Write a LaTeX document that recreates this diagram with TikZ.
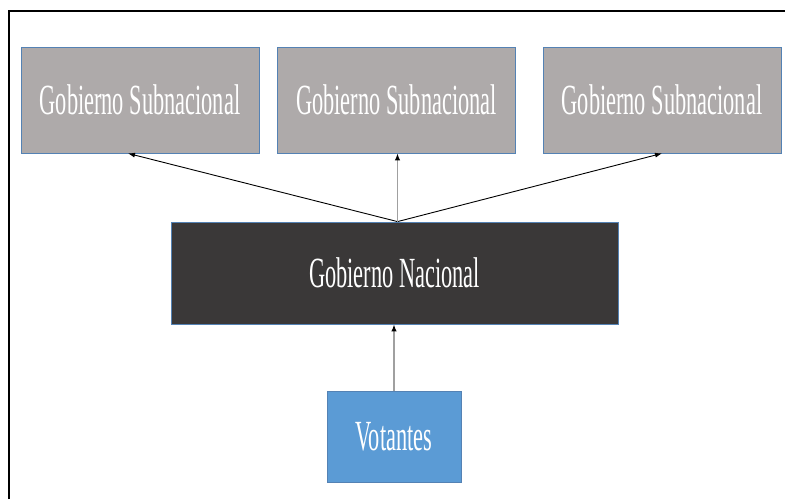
\documentclass[tikz,border=0pt]{standalone}
\usepackage{fontspec}
\newfontfamily\condserif[FakeStretch=0.52]{Liberation Serif}
\usetikzlibrary{arrows.meta}
\definecolor{subgray}{RGB}{174,170,170}
\definecolor{natdark}{RGB}{58,56,56}
\definecolor{votblue}{RGB}{91,155,213}
\definecolor{edgeblue}{RGB}{84,130,180}
\definecolor{linegray}{RGB}{160,160,160}
\tikzset{
  box/.style={draw=edgeblue, line width=0.8pt, rectangle, inner sep=0pt, text=white,
    font=\condserif\fontsize{43}{43}\selectfont},
  subbox/.style={box, fill=subgray, minimum width=238pt, minimum height=106pt},
  natbox/.style={box, fill=natdark, minimum width=447pt, minimum height=102pt},
  votbox/.style={box, fill=votblue, minimum width=134pt, minimum height=91pt},
  arr/.style={-{Latex[length=7pt,width=5pt]}, line width=0.9pt, black},
  grayarr/.style={-{Latex[length=7pt,width=5.5pt,color=black]}, line width=1.3pt, draw=linegray},
  frame/.style={line width=2pt, black}
}
\begin{document}
\begin{tikzpicture}[x=1pt,y=-1pt]
\useasboundingbox (0,0) rectangle (785,499);
\fill[white] (0,0) rectangle (785,499);
\draw[frame] (8.5,499) -- (8.5,11) -- (785,11);
\node[subbox] (s1) at (140,100) {Gobierno Subnacional};
\node[subbox] (s2) at (396.5,100) {Gobierno Subnacional};
\node[subbox] (s3) at (662,100) {Gobierno Subnacional};
\node[natbox] (n) at (394.5,273) {Gobierno Nacional};
\node[votbox] (v) at (394,436.5) {Votantes};
\coordinate (top) at ([xshift=3pt]n.north);
\draw[arr] (top) -- ([xshift=-12pt]s1.south);
\draw[arr] (top) -- (s3.south);
\draw[grayarr] (top) -- (top |- s2.south);
\draw[grayarr] (v.north) -- (v.north |- n.south);
\end{tikzpicture}
\end{document}
